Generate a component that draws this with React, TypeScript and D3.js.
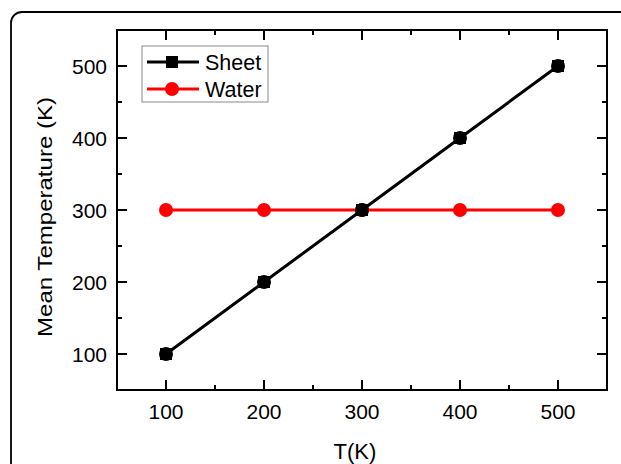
import React, { useRef, useEffect } from 'react';
import * as d3 from 'd3';

// chart values
const temps = [100, 200, 300, 400, 500];
const sheetValues = [100, 200, 300, 400, 500];
const waterValues = [300, 300, 300, 300, 300];
const xTicks = [100, 200, 300, 400, 500];
const yTicks = [100, 200, 300, 400, 500];
const minorTicks = [150, 250, 350, 450];

const App = () => {
  const svgRef = useRef<SVGSVGElement>(null);

  useEffect(() => {
    const width = 621;
    const height = 464;
    const marginLeft = 117;
    const marginRight = 14;
    const marginTop = 30;
    const marginBottom = 74;

    const svg = d3.select(svgRef.current)
      .attr('width', width)
      .attr('height', height)
      .attr('viewBox', `0 0 ${width} ${height}`);

    svg.selectAll('*').remove();

    const font = 'Liberation Sans, Arial, sans-serif';

    // outer rounded frame, runs off the right and bottom edges
    svg.append('rect')
      .attr('x', 11)
      .attr('y', 12)
      .attr('width', 640)
      .attr('height', 480)
      .attr('rx', 11)
      .attr('fill', 'none')
      .attr('stroke', '#000')
      .attr('stroke-width', 1.8);

    const x = d3.scaleLinear()
      .domain([50, 550])
      .range([marginLeft, width - marginRight]);

    const y = d3.scaleLinear()
      .domain([50, 550])
      .range([height - marginBottom, marginTop]);

    const x0 = x.range()[0];
    const x1 = x.range()[1];
    const y0 = y.range()[0];
    const y1 = y.range()[1];

    // plot frame
    svg.append('rect')
      .attr('x', x0)
      .attr('y', y1)
      .attr('width', x1 - x0)
      .attr('height', y0 - y1)
      .attr('fill', 'none')
      .attr('stroke', '#000')
      .attr('stroke-width', 2);

    const major = 10;
    const minor = 5;
    const ticks = svg.append('g').attr('stroke', '#000').attr('stroke-width', 2);

    // inward ticks on all four sides
    const addX = (v: number, len: number) => {
      ticks.append('line').attr('x1', x(v)).attr('x2', x(v)).attr('y1', y0).attr('y2', y0 - len);
      ticks.append('line').attr('x1', x(v)).attr('x2', x(v)).attr('y1', y1).attr('y2', y1 + len);
    };
    const addY = (v: number, len: number) => {
      ticks.append('line').attr('y1', y(v)).attr('y2', y(v)).attr('x1', x0).attr('x2', x0 + len);
      ticks.append('line').attr('y1', y(v)).attr('y2', y(v)).attr('x1', x1).attr('x2', x1 - len);
    };
    xTicks.forEach(v => addX(v, major));
    minorTicks.forEach(v => addX(v, minor));
    yTicks.forEach(v => addY(v, major));
    minorTicks.forEach(v => addY(v, minor));

    // tick labels
    svg.append('g')
      .selectAll('text')
      .data(xTicks)
      .join('text')
      .attr('x', d => x(d))
      .attr('y', y0 + 29)
      .attr('text-anchor', 'middle')
      .attr('font-family', font)
      .attr('font-size', 21)
      .text(d => d);

    svg.append('g')
      .selectAll('text')
      .data(yTicks)
      .join('text')
      .attr('x', x0 - 10)
      .attr('y', d => y(d) + 7.5)
      .attr('text-anchor', 'end')
      .attr('font-family', font)
      .attr('font-size', 21)
      .text(d => d);

    // axis titles
    svg.append('text')
      .attr('x', 355)
      .attr('y', 459)
      .attr('text-anchor', 'middle')
      .attr('font-family', font)
      .attr('font-size', 22)
      .text('T(K)');

    svg.append('text')
      .attr('transform', `translate(52,217) rotate(-90)`)
      .attr('text-anchor', 'middle')
      .attr('font-family', font)
      .attr('font-size', 20)
      .attr('textLength', 240)
      .attr('lengthAdjust', 'spacingAndGlyphs')
      .text('Mean Temperature (K)');

    const line = d3.line<number>()
      .x((d, i) => x(temps[i]))
      .y(d => y(d));

    // water series
    svg.append('path')
      .datum(waterValues)
      .attr('fill', 'none')
      .attr('stroke', '#ff0000')
      .attr('stroke-width', 3)
      .attr('d', line);

    svg.append('g')
      .selectAll('circle')
      .data(waterValues)
      .join('circle')
      .attr('cx', (d, i) => x(temps[i]))
      .attr('cy', d => y(d))
      .attr('r', 7)
      .attr('fill', '#ff0000');

    // sheet series
    svg.append('path')
      .datum(sheetValues)
      .attr('fill', 'none')
      .attr('stroke', '#000')
      .attr('stroke-width', 3)
      .attr('d', line);

    const sheetPts = svg.append('g');
    sheetPts.selectAll('rect')
      .data(sheetValues)
      .join('rect')
      .attr('x', (d, i) => x(temps[i]) - 6)
      .attr('y', d => y(d) - 6)
      .attr('width', 12)
      .attr('height', 12)
      .attr('fill', '#000');
    sheetPts.selectAll('circle')
      .data(sheetValues)
      .join('circle')
      .attr('cx', (d, i) => x(temps[i]))
      .attr('cy', d => y(d))
      .attr('r', 7)
      .attr('fill', '#000');

    // legend
    const legend = svg.append('g');
    legend.append('rect')
      .attr('x', 142)
      .attr('y', 46)
      .attr('width', 126)
      .attr('height', 56)
      .attr('fill', '#fff')
      .attr('stroke', '#888')
      .attr('stroke-width', 1);

    const items = [
      { name: 'Sheet', color: '#000', shape: 'square', cy: 62 },
      { name: 'Water', color: '#ff0000', shape: 'circle', cy: 89 },
    ];
    items.forEach(it => {
      legend.append('line')
        .attr('x1', 147).attr('x2', 199)
        .attr('y1', it.cy).attr('y2', it.cy)
        .attr('stroke', it.color)
        .attr('stroke-width', 3);
      if (it.shape === 'square') {
        legend.append('rect')
          .attr('x', 166).attr('y', it.cy - 6)
          .attr('width', 12).attr('height', 12)
          .attr('fill', it.color);
      } else {
        legend.append('circle')
          .attr('cx', 172).attr('cy', it.cy)
          .attr('r', 7)
          .attr('fill', it.color);
      }
      legend.append('text')
        .attr('x', 205)
        .attr('y', it.cy + 7.5)
        .attr('font-family', font)
        .attr('font-size', 21.5)
        .text(it.name);
    });
  }, []);

  return (
    <svg ref={svgRef} style={{ position: 'absolute', left: 0, top: 0 }}></svg>
  );
};

export default App;
